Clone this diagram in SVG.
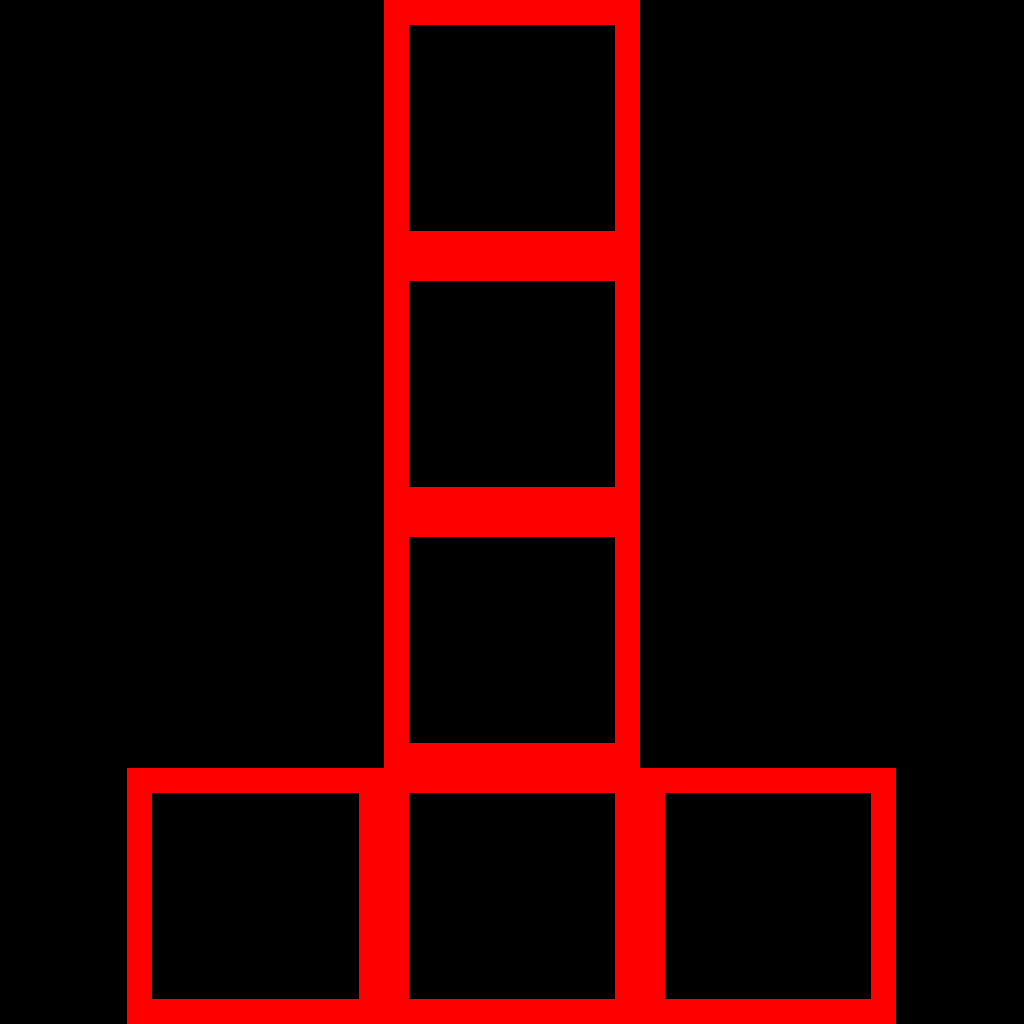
<svg xmlns="http://www.w3.org/2000/svg" width="1024" height="1024" viewBox="0 0 1024 1024">
<style>.cell{fill:#000;stroke:#ff0000;stroke-width:25}</style>
<rect width="1024" height="1024" fill="#000"/>
<g id="cell-1"><rect class="cell" x="396.5" y="12.5" width="231" height="231"/></g>
<g id="cell-2"><rect class="cell" x="396.5" y="268.5" width="231" height="231"/></g>
<g id="cell-3"><rect class="cell" x="396.5" y="524.5" width="231" height="231"/></g>
<g id="cell-4"><rect class="cell" x="139.5" y="780.5" width="232" height="231"/></g>
<g id="cell-5"><rect class="cell" x="396.5" y="780.5" width="231" height="231"/></g>
<g id="cell-6"><rect class="cell" x="652.5" y="780.5" width="231" height="231"/></g>
<g id="connectors"></g>
</svg>
